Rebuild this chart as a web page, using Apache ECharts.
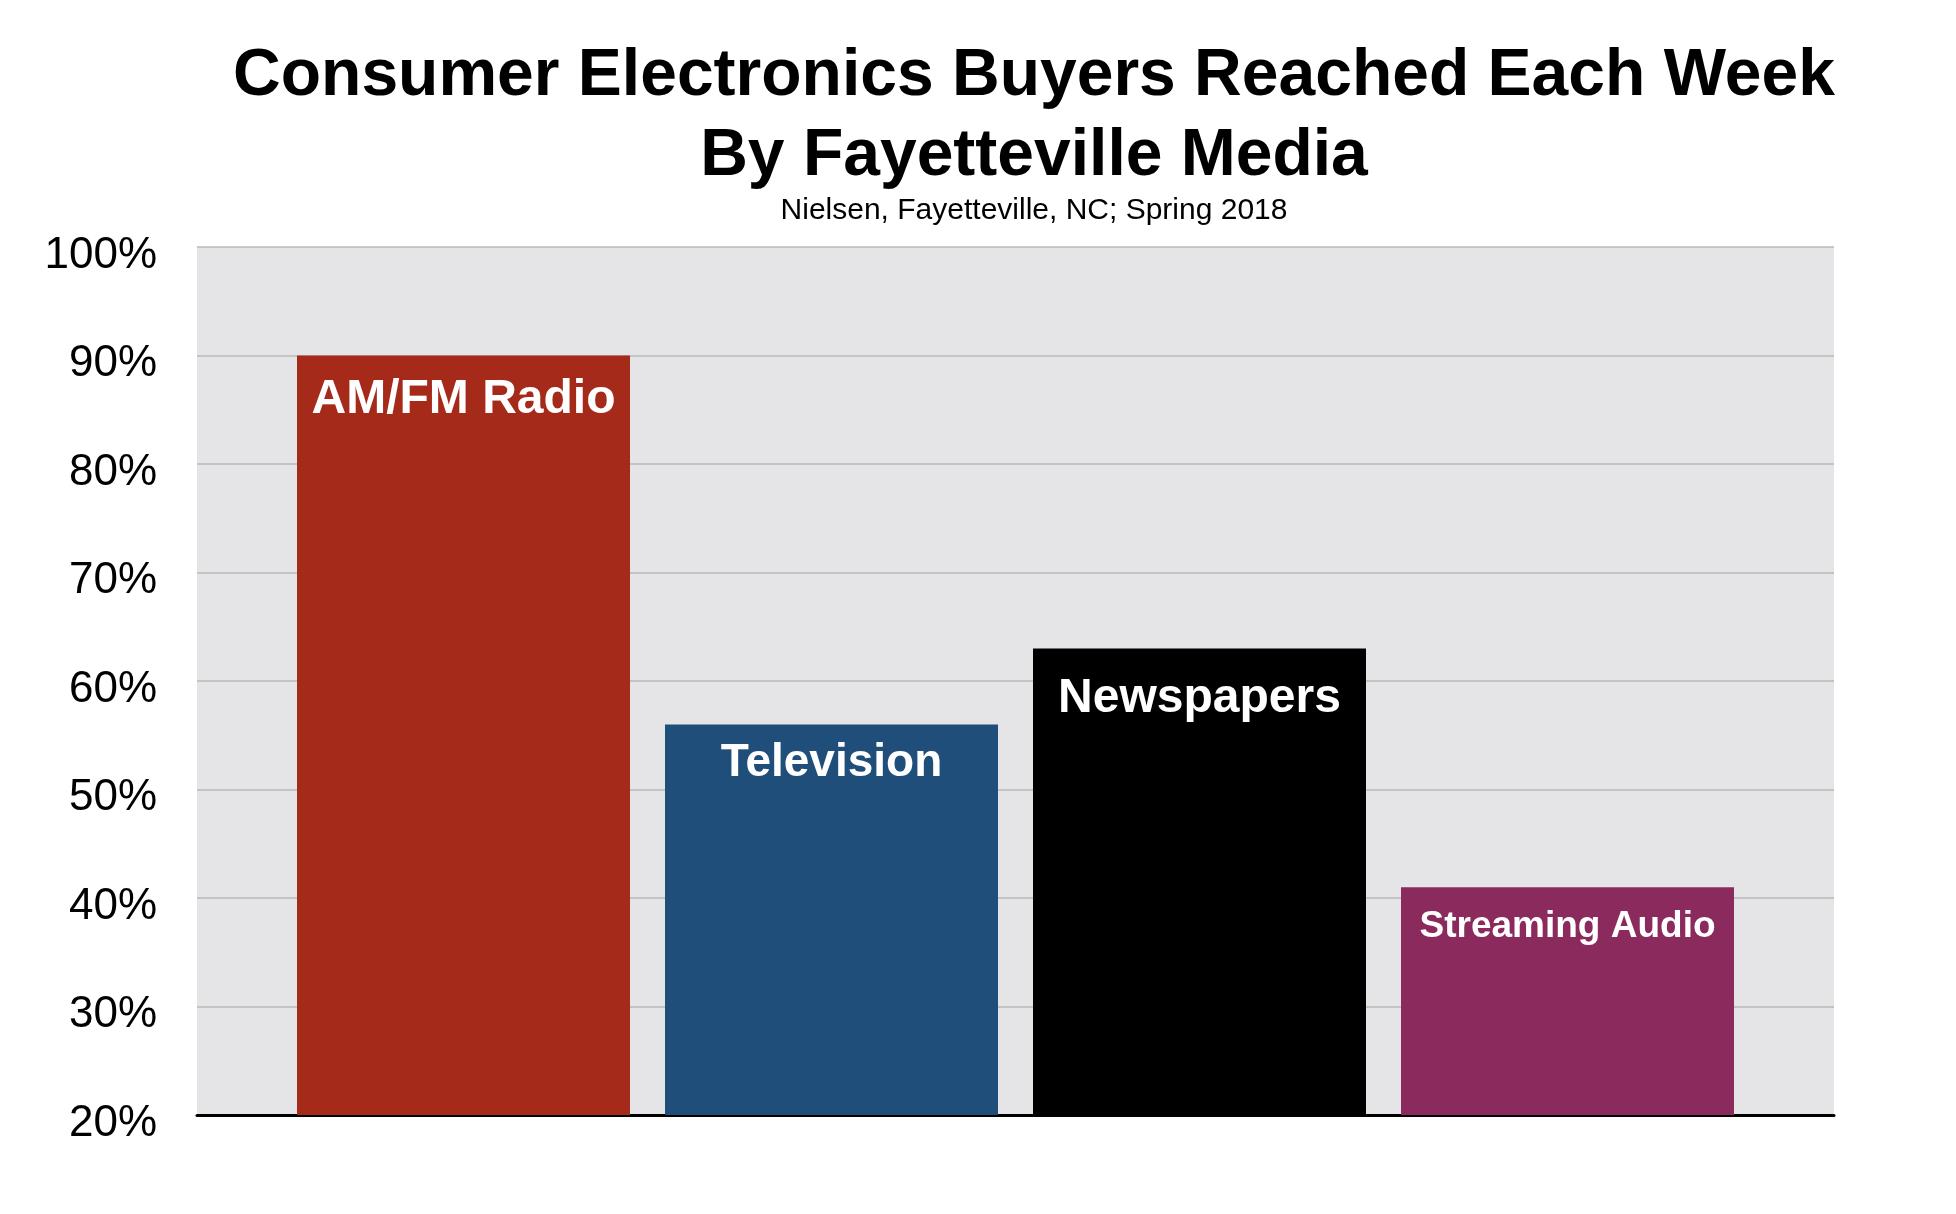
<!DOCTYPE html>
<html>
<head>
<meta charset="utf-8">
<script src="https://cdn.jsdelivr.net/npm/echarts@6/dist/echarts.min.js"></script>
<style>
html,body{margin:0;padding:0;background:#fff;}
#chart{width:1956px;height:1214px;}
</style>
</head>
<body>
<div id="chart"></div>
<script>
const categories = ["AM/FM Radio", "Television", "Newspapers", "Streaming Audio"];
const values = [90, 56, 63, 41];
const barColors = ["#a52a1a", "#1f4e7a", "#000000", "#8b2a5c"];
const labelSizes = [48, 46, 48, 37];
const labelDistances = [20, 16, 26, 21];
const yTicks = [20, 30, 40, 50, 60, 70, 80, 90, 100];
const titleText = "Consumer Electronics Buyers Reached Each Week\nBy Fayetteville Media";
const subtitleText = "Nielsen, Fayetteville, NC; Spring 2018";

const FONT = '"Liberation Sans", Arial, Helvetica, sans-serif';
const chart = echarts.init(document.getElementById('chart'), null, {renderer: 'canvas'});

const option = {
  backgroundColor: '#ffffff',
  animation: false,
  title: [
    {
      text: titleText,
      left: 1029, top: 32, textAlign: 'center',
      textStyle: {fontFamily: FONT, fontSize: 66, fontWeight: 'bold', color: '#000', lineHeight: 80}
    },
    {
      text: subtitleText,
      left: 1029, top: 190, textAlign: 'center',
      textStyle: {fontFamily: FONT, fontSize: 30, fontWeight: 'normal', color: '#000', lineHeight: 32}
    }
  ],
  grid: [
    {left: 197, right: 122, top: 247, bottom: 99, show: true, backgroundColor: '#e5e5e8', borderWidth: 0},
    {left: 279.5, right: 204.5, top: 247, bottom: 99, show: false}
  ],
  xAxis: [
    {
      type: 'category', gridIndex: 0, data: categories,
      axisLine: {show: true, lineStyle: {color: '#000', width: 3}},
      axisTick: {show: false}, axisLabel: {show: false}, splitLine: {show: false}
    },
    {
      type: 'category', gridIndex: 1, data: categories,
      axisLine: {show: false}, axisTick: {show: false}, axisLabel: {show: false}, splitLine: {show: false}
    }
  ],
  yAxis: [
    {
      type: 'value', gridIndex: 0, min: yTicks[0], max: yTicks[yTicks.length - 1], interval: 10,
      axisLine: {show: false}, axisTick: {show: false},
      axisLabel: {
        formatter: v => v + '%', fontFamily: FONT, fontSize: 44, color: '#000', margin: 40,
        verticalAlign: 'top', lineHeight: 17
      },
      splitLine: {show: true, lineStyle: {color: '#b9b9b9', width: 1.5}}
    },
    {
      type: 'value', gridIndex: 1, min: yTicks[0], max: yTicks[yTicks.length - 1], interval: 10,
      axisLine: {show: false}, axisTick: {show: false}, axisLabel: {show: false}, splitLine: {show: false}
    }
  ],
  series: [
    {
      type: 'bar', xAxisIndex: 1, yAxisIndex: 1,
      barWidth: 333,
      data: values.map((v, i) => ({
        value: v,
        itemStyle: {color: barColors[i]},
        label: {fontSize: labelSizes[i], distance: labelDistances[i]}
      })),
      label: {
        show: true, position: 'insideTop',
        formatter: p => categories[p.dataIndex],
        fontFamily: FONT, fontWeight: 'bold', color: '#fff'
      }
    }
  ]
};
chart.setOption(option);
</script>
</body>
</html>
